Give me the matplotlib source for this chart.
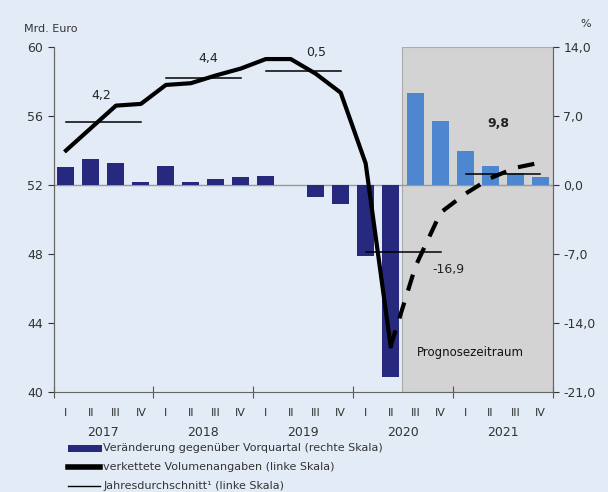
import matplotlib
matplotlib.use("Agg")
import matplotlib.pyplot as plt
from matplotlib.lines import Line2D
from matplotlib.patches import Rectangle
import numpy as np

# Quarterly change vs previous quarter, % (right scale), 2017Q1..2021Q4
change = [1.85, 2.6, 2.2, 0.3, 1.95, 0.3, 0.65, 0.8, 0.9, 0.0, -1.25, -1.9,
          -7.2, -19.5, 9.35, 6.45, 3.45, 1.95, 1.2, 0.8]
# Chained volume, bn EUR (left scale) actual 2017Q1..2020Q2
volume = [54.0, 55.3, 56.6, 56.7, 57.8, 57.9, 58.35, 58.75, 59.3, 59.3,
          58.45, 57.35, 53.25, 42.65]
# Forecast 2020Q2..2021Q4
forecast = [42.65, 47.3, 50.4, 51.5, 52.4, 53.0, 53.3]
# Annual averages (left scale) and growth labels
years = ["2017", "2018", "2019", "2020", "2021"]
annual_avg = [55.65, 58.2, 58.6, 48.1, 52.65]
growth_labels = ["4,2", "4,4", "0,5", "-16,9", "9,8"]
quarters = ["I", "II", "III", "IV"]

bg = "#e3ebf7"
navy = "#27297f"
light = "#4f86d0"

fig = plt.figure(figsize=(6.08, 4.92), dpi=100, facecolor=bg)
ax = fig.add_axes([0.088, 0.2033, 0.8215, 0.7012])
ax2 = ax.twinx()
ax.set_zorder(ax2.get_zorder() + 1)
ax.patch.set_visible(False)
ax2.set_facecolor(bg)

# forecast shading (from start of 2020 Q3)
ax2.add_patch(Rectangle((13.95, -21), 6.05, 35, facecolor="#d3d3d3",
                        edgecolor="#aaaaaa", lw=0.8, zorder=0))

x = np.arange(20) + 0.5
colors = [navy] * 14 + [light] * 6
ax2.bar(x, change, width=0.68, color=colors, zorder=2)
ax2.axhline(0, color="#999999", lw=1, zorder=1)
ax2.set_ylim(-21, 14)
ax2.set_yticks([-21, -14, -7, 0, 7, 14])
ax2.set_yticklabels(["-21,0", "-14,0", "-7,0", "0,0", "7,0", "14,0"])

ax.plot(x[:14], volume, color="black", lw=3, solid_joinstyle="round")
ax.plot(x[13:], forecast, color="black", lw=3, ls=(0, (4, 3)))
for i, avg in enumerate(annual_avg):
    ax.plot([4 * i + 0.5, 4 * i + 3.5], [avg, avg], color="black", lw=1.1)
label_pos = [(1.9, 56.8), (6.2, 58.95), (10.5, 59.3), (15.8, 46.7), (17.8, 55.2)]
for (lx, ly_), lab in zip(label_pos, growth_labels):
    ax.text(lx, ly_, lab, ha="center", va="bottom", fontsize=9, color="#222222",
            fontweight="bold" if lab == "9,8" else "normal")
ax.text(16.7, 42.1, "Prognosezeitraum", ha="center", fontsize=8.5, color="#111111")

ax.set_xlim(0, 20)
ax.set_ylim(40, 60)
ax.set_yticks([40, 44, 48, 52, 56, 60])
ax.set_xticks([0, 4, 8, 12, 16, 20])
ax.set_xticklabels([])
ax.tick_params(axis="x", direction="inout", length=8, color="#555555")
for a in (ax, ax2):
    a.tick_params(axis="y", labelsize=9, colors="#333333", length=4)
    for s in a.spines.values():
        s.set_color("#666666")
    a.spines["top"].set_visible(False)
ax2.spines["right"].set_color("#888888")
ax2.spines["bottom"].set_visible(False)
ax2.tick_params(axis="x", bottom=False, labelbottom=False)

for i in range(20):
    ax.text(x[i], -0.045, quarters[i % 4], transform=ax.get_xaxis_transform(),
            ha="center", va="top", fontsize=8, color="#333333")
for j, yr in enumerate(years):
    ax.text(4 * j + 2, -0.1, yr, transform=ax.get_xaxis_transform(),
            ha="center", va="top", fontsize=9, color="#333333")

fig.text(0.04, 0.935, "Mrd. Euro", fontsize=8, color="#333333")
fig.text(0.955, 0.945, "%", fontsize=8, color="#333333")

# legend
H = 492
def ly(px):
    return 1 - px / H
fig.add_artist(Rectangle((0.112, ly(452)), 0.055, 0.014, facecolor=navy,
                         transform=fig.transFigure))
fig.add_artist(Line2D([0.112, 0.165], [ly(467), ly(467)], color="black", lw=4,
                      transform=fig.transFigure))
fig.add_artist(Line2D([0.112, 0.165], [ly(486), ly(486)], color="black", lw=1,
                      transform=fig.transFigure))
fig.text(0.17, ly(448), "Veränderung gegenüber Vorquartal (rechte Skala)",
         fontsize=8, color="#333333", va="center")
fig.text(0.17, ly(467), "verkettete Volumenangaben (linke Skala)",
         fontsize=8, color="#333333", va="center")
fig.text(0.17, ly(486), "Jahresdurchschnitt¹ (linke Skala)",
         fontsize=8, color="#333333", va="center")

fig.savefig("out.png", dpi=100, facecolor=bg)
